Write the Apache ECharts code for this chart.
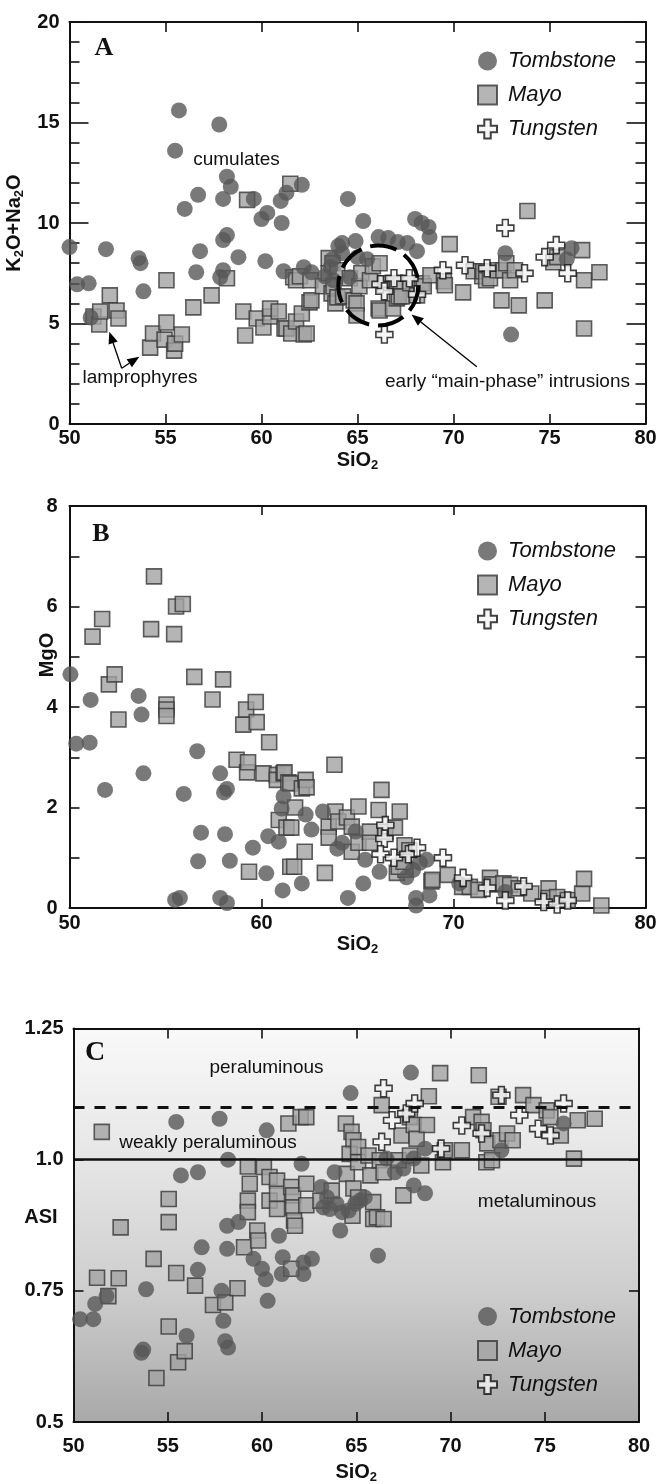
<!DOCTYPE html>
<html><head><meta charset="utf-8">
<script src="https://cdn.jsdelivr.net/npm/echarts@6/dist/echarts.min.js"></script>
<style>html,body{margin:0;padding:0;background:#fff}#c{width:661px;height:1484px}</style>
</head><body><div id="c"></div>
<script>
// ---------- DATA ----------
const seriesNames = ['Tombstone', 'Mayo', 'Tungsten'];

// Panel A: SiO2 vs K2O+Na2O
const tombA = [[50.0,8.8],[50.4,6.95],[51.0,7.0],[51.1,5.3],[51.9,8.7],[53.6,8.25],[53.7,8.0],[53.85,6.6],[55.5,13.6],[55.7,15.6],[56.0,10.7],[56.6,7.55],[56.7,11.4],[56.8,8.6],[57.8,14.9],[57.85,7.3],[58.0,11.2],[58.0,7.65],[58.0,9.15],[58.2,12.3],[58.2,9.4],[58.4,11.8],[58.8,8.3],[59.6,11.2],[60.0,10.2],[60.2,8.1],[60.3,10.5],[61.0,11.1],[61.05,10.0],[61.15,7.6],[61.3,11.5],[62.1,11.9],[62.2,7.8],[62.6,7.55],[63.3,7.35],[63.6,7.8],[63.7,8.2],[63.75,7.15],[64.0,8.85],[64.2,9.0],[64.2,8.5],[64.5,11.2],[64.6,7.3],[64.9,9.1],[65.0,8.3],[65.3,10.1],[65.5,8.2],[66.1,9.3],[66.6,9.25],[67.1,9.05],[67.6,9.0],[68.0,10.2],[68.1,8.6],[68.35,10.0],[68.7,9.8],[68.75,9.3],[72.7,8.5],[73.0,4.45],[75.9,8.2],[76.15,8.75]];
const mayoA = [[51.25,5.35],[51.55,4.95],[51.6,5.6],[52.1,6.4],[52.45,5.65],[52.55,5.25],[54.2,3.8],[54.35,4.5],[54.95,4.2],[55.05,5.05],[55.05,7.15],[55.45,3.65],[55.5,4.0],[55.85,4.45],[56.45,5.8],[57.4,6.4],[58.2,7.25],[59.05,5.6],[59.15,4.4],[59.25,11.15],[59.75,5.25],[60.1,4.8],[60.45,5.35],[60.45,5.75],[60.9,5.6],[61.2,4.75],[61.3,4.75],[61.5,11.95],[61.55,4.5],[61.65,7.3],[61.8,5.1],[61.8,7.15],[62.0,7.35],[62.1,5.5],[62.2,4.45],[62.35,4.5],[62.5,6.05],[62.55,7.15],[62.6,6.15],[63.2,6.85],[63.5,8.25],[63.5,7.5],[63.65,6.5],[63.7,8.0],[63.75,6.85],[63.85,6.0],[63.95,7.65],[63.95,6.3],[64.25,6.35],[64.6,7.25],[64.8,6.15],[64.95,6.0],[64.95,5.4],[65.1,6.85],[65.2,7.5],[65.65,7.15],[65.8,7.85],[66.15,8.0],[66.1,5.75],[66.15,5.65],[66.5,7.0],[66.85,5.75],[66.95,7.0],[67.05,6.25],[67.15,6.35],[67.3,6.35],[67.75,7.0],[68.1,6.4],[68.35,7.0],[68.45,6.85],[68.8,7.4],[69.5,7.1],[69.55,6.9],[69.8,8.95],[70.5,6.55],[71.05,7.6],[71.5,7.35],[71.55,7.6],[71.7,7.15],[71.9,7.25],[72.3,7.65],[72.5,6.15],[72.6,7.65],[72.75,8.0],[72.95,7.15],[73.2,7.65],[73.4,5.9],[73.85,10.6],[74.75,6.15],[75.2,8.05],[75.4,8.3],[76.7,8.65],[76.8,7.15],[76.8,4.75],[77.6,7.55]];
const tungA = [[66.2,6.95],[66.4,6.6],[66.4,4.45],[66.9,7.25],[67.7,7.25],[68.1,6.45],[69.45,7.65],[70.6,7.9],[71.75,7.75],[72.7,9.75],[73.7,7.5],[74.75,8.3],[75.35,8.9],[75.95,7.5]];

// Panel B: SiO2 vs MgO
const tombB = [[50.05,4.65],[50.35,3.27],[51.05,3.29],[51.1,4.14],[51.85,2.35],[53.6,4.22],[53.75,3.85],[53.85,2.68],[55.5,0.16],[55.75,0.2],[55.95,2.27],[56.65,3.12],[56.7,0.93],[56.85,1.5],[57.85,2.68],[57.85,0.2],[58.05,2.3],[58.1,1.47],[58.2,2.37],[58.2,0.1],[58.35,0.94],[59.55,1.2],[60.25,0.69],[60.35,1.43],[60.9,1.32],[61.05,1.98],[61.1,0.35],[61.15,2.22],[62.1,0.49],[62.3,1.86],[62.6,1.56],[63.2,1.92],[63.95,1.18],[64.2,1.3],[64.5,0.2],[64.9,1.52],[65.3,0.49],[65.4,0.96],[66.15,0.72],[67.55,0.61],[67.9,0.76],[68.05,0.2],[68.05,0.05],[68.25,0.9],[68.6,0.96],[68.75,0.25],[70.3,0.49],[72.7,0.32]];
const mayoB = [[51.2,5.4],[51.7,5.75],[52.05,4.45],[52.35,4.65],[52.55,3.75],[54.25,5.55],[54.4,6.6],[55.05,4.05],[55.05,3.95],[55.05,3.82],[55.45,5.45],[55.55,6.0],[55.9,6.05],[56.5,4.6],[57.45,4.15],[58.0,4.55],[58.7,2.95],[59.05,3.65],[59.2,3.95],[59.25,2.7],[59.3,2.9],[59.35,0.72],[59.7,4.1],[59.75,3.7],[60.1,2.68],[60.4,3.3],[60.8,2.65],[60.8,2.55],[60.9,1.75],[61.15,2.68],[61.2,2.7],[61.4,2.5],[61.3,1.6],[61.5,2.48],[61.5,0.82],[61.55,1.6],[61.7,0.82],[61.75,2.0],[62.1,2.38],[62.25,1.12],[62.3,2.55],[62.35,2.4],[63.3,0.7],[63.5,1.62],[63.5,1.4],[63.8,2.85],[63.85,1.92],[64.0,1.72],[64.45,1.8],[64.7,1.62],[64.7,1.12],[65.05,2.02],[65.05,1.3],[65.65,1.52],[65.65,1.3],[66.1,1.95],[66.25,2.35],[66.45,1.52],[66.95,1.6],[67.05,0.7],[67.2,1.92],[67.45,1.25],[67.5,0.76],[67.7,1.15],[67.15,0.82],[67.4,0.92],[68.85,0.53],[68.9,0.56],[69.7,0.66],[70.45,0.42],[70.85,0.42],[71.3,0.36],[71.9,0.6],[72.0,0.47],[72.6,0.49],[72.95,0.46],[73.4,0.39],[74.05,0.29],[74.95,0.39],[74.95,0.2],[75.4,0.22],[75.95,0.16],[76.7,0.29],[76.8,0.58],[77.7,0.05]];
const tungB = [[66.45,1.65],[66.4,1.38],[66.2,1.07],[66.9,1.0],[67.65,1.07],[68.1,1.2],[69.45,1.0],[70.5,0.6],[71.75,0.4],[72.7,0.15],[73.65,0.43],[74.7,0.12],[75.4,0.07],[75.95,0.15]];

// Panel C: SiO2 vs ASI
const tombC = [[50.35,0.696],[51.05,0.696],[51.15,0.725],[51.75,0.74],[53.6,0.632],[53.7,0.638],[53.85,0.753],[55.45,1.072],[55.7,0.97],[56.0,0.664],[56.6,0.976],[56.6,0.79],[56.8,0.833],[57.75,1.078],[57.85,0.75],[57.95,0.693],[58.05,0.654],[58.15,0.874],[58.15,0.83],[58.2,1.0],[58.2,0.642],[58.75,0.881],[59.55,0.811],[60.0,0.792],[60.2,0.772],[60.25,1.056],[60.3,0.731],[60.9,0.855],[61.05,0.782],[61.1,0.814],[62.1,0.992],[62.2,0.804],[62.2,0.782],[62.65,0.811],[63.15,0.948],[63.45,0.928],[63.25,0.909],[63.6,0.906],[63.85,0.976],[63.95,0.916],[64.15,0.865],[64.25,0.9],[64.6,0.903],[64.7,1.127],[64.95,0.916],[65.2,0.922],[65.45,0.928],[66.15,0.817],[66.6,1.002],[67.05,0.976],[67.5,0.983],[67.9,1.166],[68.05,1.002],[68.05,0.951],[68.65,1.021],[68.65,0.936],[72.7,1.018],[76.0,1.069]];
const mayoC = [[51.25,0.775],[51.5,1.053],[51.85,0.74],[52.4,0.774],[52.5,0.871],[54.25,0.811],[54.4,0.584],[55.05,0.925],[55.05,0.881],[55.05,0.682],[55.45,0.784],[55.55,0.614],[55.9,0.635],[56.45,0.76],[57.4,0.723],[58.05,0.728],[58.7,0.755],[59.05,0.833],[59.25,0.987],[59.35,0.954],[59.25,0.922],[59.25,0.9],[59.75,0.865],[59.8,0.846],[60.1,0.986],[60.4,0.922],[60.4,0.967],[60.8,0.96],[60.8,0.935],[60.8,0.906],[61.4,1.069],[61.55,0.948],[61.55,0.792],[61.65,0.932],[61.65,0.909],[61.7,0.884],[61.75,0.874],[62.05,1.081],[62.35,1.081],[62.35,0.954],[62.35,0.913],[63.1,0.922],[63.7,0.941],[64.45,1.069],[64.5,0.973],[64.75,1.053],[64.8,0.893],[64.85,1.037],[64.85,0.945],[64.65,1.011],[65.1,1.024],[65.1,0.995],[65.1,0.928],[65.65,1.008],[65.75,0.97],[65.9,0.919],[65.9,0.887],[66.1,0.89],[66.25,0.999],[66.35,1.104],[66.45,0.976],[66.45,0.887],[67.25,0.999],[67.4,1.046],[67.5,0.932],[67.85,1.008],[67.85,1.081],[68.05,1.066],[68.2,1.04],[68.45,0.989],[68.75,1.066],[68.85,1.121],[69.45,1.165],[69.6,0.995],[69.7,1.018],[70.6,1.018],[71.2,1.081],[71.5,1.161],[71.65,1.072],[71.75,1.056],[71.95,1.031],[71.9,0.995],[72.2,0.999],[72.55,1.12],[72.65,1.037],[73.0,1.05],[73.3,1.037],[73.85,1.123],[74.4,1.104],[75.1,1.094],[75.3,1.081],[75.85,1.046],[76.55,1.002],[76.75,1.075],[77.65,1.078]];
const tungC = [[66.35,1.034],[66.45,1.136],[66.9,1.075],[67.65,1.088],[68.1,1.107],[69.5,1.021],[70.6,1.065],[71.65,1.05],[72.7,1.123],[73.65,1.085],[74.65,1.059],[75.3,1.046],[76.0,1.107]];

const asiRefLines = [1.0, 1.1];          // metaluminous / peraluminous boundaries
const asiTicks = [0.5, 0.75, 1.0, 1.25];
const asiTickLabels = ['0.5', '0.75', '1.0', '1.25'];

// ---------- STYLE / LAYOUT ----------
const FONT = 'Liberation Sans';
const INK = '#111';
const CROSS = 'path://M3.3,0 H6.7 V3.3 H10 V6.7 H6.7 V10 H3.3 V6.7 H0 V3.3 H3.3 Z';
const RICH = {
  a: {fontSize: 20, fontWeight: 'bold', fontFamily: FONT, color: INK, lineHeight: 24},
  s: {fontSize: 13, fontWeight: 'bold', fontFamily: FONT, color: INK, padding: [10, 0, 0, 0]}
};
const grids = [
  {left: 69.5, top: 22, width: 576, height: 402},
  {left: 69.5, top: 506, width: 576, height: 402},
  {left: 73.5, top: 1028.5, width: 565.5, height: 393.5, show: true, borderWidth: 0,
   backgroundColor: {type: 'linear', x: 0, y: 0, x2: 0, y2: 1, colorStops: [
     {offset: 0, color: '#f9f9f9'}, {offset: 0.33, color: '#e6e6e6'},
     {offset: 0.67, color: '#cdcdcd'}, {offset: 1, color: '#a9a9a9'}]}}
].map(g => Object.assign({outerBoundsMode: 'none', containLabel: false}, g));

const xAxes = [], yAxes = [];
const line = {show: true, onZero: false, lineStyle: {color: INK, width: 2}};
const tick = len => ({show: true, inside: true, length: len, lineStyle: {color: INK, width: 1.6}});
const lab = (m, fmt) => ({show: true, margin: m, color: INK, fontSize: 20, fontWeight: 'bold', fontFamily: FONT,
  showMinLabel: true, showMaxLabel: true, formatter: fmt});
function addAxes(gi, xo, yo) {
  const base = {type: 'value', gridIndex: gi, splitLine: {show: false}, axisLine: line};
  xAxes.push(Object.assign({}, base, {position: 'bottom', min: xo.min, max: xo.max, interval: xo.interval,
    axisTick: tick(xo.tick), axisLabel: lab(xo.margin), name: xo.name, nameLocation: 'middle', nameGap: xo.nameGap,
    nameTextStyle: {rich: RICH}}));
  xAxes.push(Object.assign({}, base, {position: 'top', min: xo.min, max: xo.max, interval: xo.interval,
    axisTick: tick(xo.tick), axisLabel: {show: false}}));
  const minor = yo.minor ? {show: true, splitNumber: yo.minor, length: 10, lineStyle: {color: INK, width: 1.6}} : {show: false};
  yAxes.push(Object.assign({}, base, {position: 'left', min: yo.min, max: yo.max, interval: yo.interval,
    axisTick: tick(yo.tick), minorTick: minor, axisLabel: lab(yo.margin, yo.fmt),
    name: yo.name || '', nameLocation: 'middle', nameRotate: 90, nameGap: yo.nameGap || 0, nameTextStyle: {rich: RICH}}));
  yAxes.push(Object.assign({}, base, {position: 'right', min: yo.min, max: yo.max, interval: yo.interval,
    axisTick: tick(yo.tick), minorTick: minor, axisLabel: {show: false}}));
}
const SIO2 = '{a|SiO}{s|2}';
addAxes(0, {min: 50, max: 80, interval: 5, tick: 10, margin: 4, name: SIO2, nameGap: 24},
           {min: 0, max: 20, interval: 5, tick: 19, minor: 5, margin: 10, name: '{a|K}{s|2}{a|O+Na}{s|2}{a|O}', nameGap: 37});
addAxes(1, {min: 50, max: 80, interval: 10, tick: 9, margin: 5, name: SIO2, nameGap: 24},
           {min: 0, max: 8, interval: 2, tick: 10, minor: 2, margin: 12});
addAxes(2, {min: 50, max: 80, interval: 5, tick: 10, margin: 14, name: SIO2, nameGap: 38},
           {min: 0.5, max: 1.25, interval: 0.25, tick: 10, margin: 10,
            fmt: v => asiTickLabels[asiTicks.findIndex(t => Math.abs(t - v) < 1e-6)]});

const STY = {
  Tombstone: {symbol: 'circle', symbolSize: 16, itemStyle: {color: '#585858', borderWidth: 0}, z: 3},
  Mayo: {symbol: 'rect', symbolSize: 15, itemStyle: {color: '#a3a3a3', borderColor: '#383838', borderWidth: 1.6}, z: 2},
  Tungsten: {symbol: CROSS, symbolSize: 17, itemStyle: {color: '#f4f4f4', borderColor: '#111', borderWidth: 1.6}, z: 4}
};
const panelData = [
  {Mayo: mayoA, Tombstone: tombA, Tungsten: tungA},
  {Mayo: mayoB, Tombstone: tombB, Tungsten: tungB},
  {Mayo: mayoC, Tombstone: tombC, Tungsten: tungC}
];
const series = [];
panelData.forEach((pd, gi) => {
  ['Mayo', 'Tombstone', 'Tungsten'].forEach(name => {
    const s = Object.assign({type: 'scatter', name, data: pd[name], xAxisIndex: gi * 2, yAxisIndex: gi * 2,
      emphasis: {disabled: true}, silent: true}, STY[name]);
    series.push(s);
  });
});
// ASI reference lines
series.push({type: 'scatter', name: 'ref', data: [], xAxisIndex: 4, yAxisIndex: 4, silent: true, z: 5,
  markLine: {silent: true, symbol: 'none', label: {show: false}, animation: false,
    data: [
      {yAxis: asiRefLines[0], lineStyle: {type: 'solid', width: 2.5, color: INK}},
      {yAxis: asiRefLines[1], lineStyle: {type: [11, 10], width: 3, color: INK}}
    ]}});

const legendTops = [45, 535, 1300.5];
const legends = legendTops.map(t => ({
  orient: 'vertical', left: 472, top: t, itemWidth: 19, itemHeight: 19, itemGap: 12, selectedMode: false,
  data: seriesNames,
  textStyle: {fontSize: 22, fontStyle: 'italic', fontFamily: FONT, color: INK, lineHeight: 22, padding: [0, 0, 0, 6]}
}));

// ---------- annotations ----------
function txt(text, x, y, o) {
  return Object.assign({type: 'text', x, y, z: 100, style: Object.assign({text, fontSize: 19, fontFamily: FONT,
    fill: INK, align: 'center', verticalAlign: 'middle'}, o || {})});
}
function arrow(x1, y1, x2, y2) {
  const dx = x2 - x1, dy = y2 - y1, L = Math.hypot(dx, dy), ux = dx / L, uy = dy / L, hl = 12, hw = 4.8;
  const bx = x2 - ux * hl, by = y2 - uy * hl;
  return [
    {type: 'line', z: 100, shape: {x1, y1, x2: bx, y2: by}, style: {stroke: '#000', lineWidth: 1.3}},
    {type: 'polygon', z: 100, shape: {points: [[x2, y2], [bx - uy * hw, by + ux * hw], [bx + uy * hw, by - ux * hw]]}, style: {fill: '#000'}}
  ];
}
const letter = {fontFamily: 'Liberation Serif', fontWeight: 'bold', fontSize: 26};
const graphic = [
  txt('A', 104, 48, letter),
  txt('B', 101, 534, letter),
  txt('C', 95, 1053, Object.assign({}, letter, {fontSize: 28})),
  txt('cumulates', 236.5, 160),
  txt('lamprophyres', 140, 378),
  txt('early \u201cmain-phase\u201d intrusions', 507.5, 381.5),
  txt('peraluminous', 266.5, 1068),
  txt('weakly peraluminous', 208, 1143),
  txt('metaluminous', 537, 1201.5),
  txt('ASI', 41, 1217, {fontSize: 20, fontWeight: 'bold'}),
  Object.assign(txt('MgO', 47.5, 655, {fontSize: 20, fontWeight: 'bold'}), {rotation: Math.PI / 2}),
  {type: 'circle', z: 100, shape: {cx: 378.3, cy: 285.5, r: 40}, style: {fill: null, stroke: '#000', lineWidth: 4, lineDash: [27, 9]}},
  ...arrow(121.7, 368.3, 109.3, 331.7),
  ...arrow(121.7, 368.3, 139.3, 356.7),
  ...arrow(476.8, 366.7, 411.5, 314.5)
];

const chart = echarts.init(document.getElementById('c'), null, {renderer: 'canvas'});
chart.setOption({
  animation: false,
  backgroundColor: '#fff',
  grid: grids,
  xAxis: xAxes,
  yAxis: yAxes,
  legend: legends,
  series,
  graphic
});
</script></body></html>
